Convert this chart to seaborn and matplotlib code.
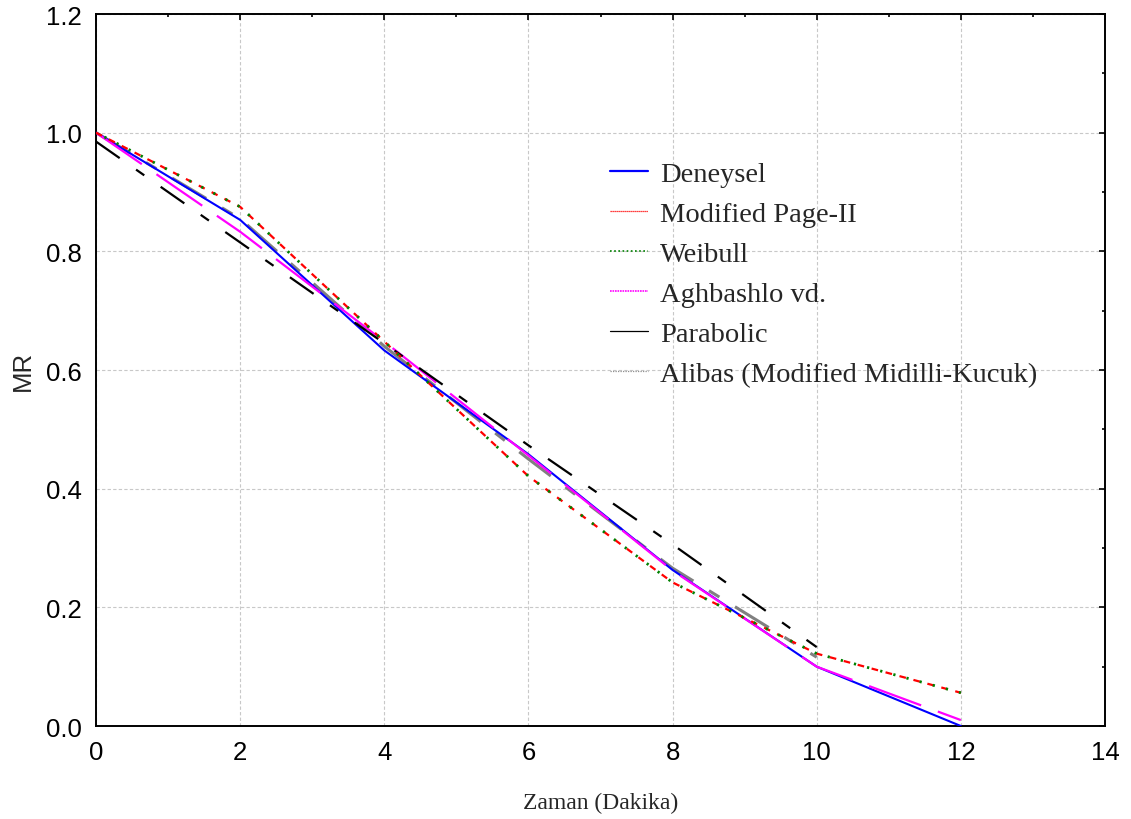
import numpy as np
import pandas as pd
import seaborn as sns
import matplotlib.pyplot as plt
from matplotlib.lines import Line2D
from matplotlib.ticker import MultipleLocator

# Data (time in minutes, MR)
zaman = [0, 2, 4, 6, 8, 10, 12]
deneysel = [1.000, 0.853, 0.633, 0.458, 0.263, 0.100, 0.000]
modified_page = [1.000, 0.875, 0.648, 0.421, 0.242, 0.122, 0.056]
weibull = [1.000, 0.875, 0.648, 0.421, 0.242, 0.122, 0.056]
aghbashlo = [1.000, 0.833, 0.648, 0.456, 0.262, 0.100, 0.010]
parabolic = [0.985, 0.815, 0.645, 0.473, 0.306, 0.133, np.nan]
alibas = [1.000, 0.855, 0.640, 0.450, 0.266, 0.116, np.nan]

labels = ["Deneysel", "Modified Page-II", "Weibull", "Aghbashlo vd.",
          "Parabolic", "Alibas (Modified Midilli-Kucuk)"]

sns.set_style("white")
plt.rcParams["font.family"] = ["Liberation Sans", "DejaVu Sans"]

fig = plt.figure(figsize=(11.31, 8.2), dpi=100)
ax = fig.add_axes([0.0849, 0.1134, 0.8921, 0.8683])

# series: values, colour, linewidth, linestyle, zorder
series = [
    (alibas, "#808080", 2.2, (0, (13, 6, 4, 6)), 2),
    (deneysel, "#0000ff", 1.5, "-", 3),
    (aghbashlo, "#ff00ff", 1.6, (0, (25, 8)), 4),
    (parabolic, "#000000", 1.6, (0, (13, 9, 4.5, 9)), 5),
    (modified_page, "#ff0000", 1.6, (0, (3, 3.5)), 6),
    (weibull, "#008000", 2.0, (1.5, (0.8, 4.1)), 7),
]

for vals, col, lw, ls, z in series:
    sns.lineplot(x=zaman, y=vals, ax=ax, color=col, lw=lw,
                 linestyle=ls, zorder=z)

ax.set_xlim(0, 14)
ax.set_ylim(0, 1.2)
ax.xaxis.set_major_locator(MultipleLocator(2))
ax.xaxis.set_minor_locator(MultipleLocator(1))
ax.yaxis.set_major_locator(MultipleLocator(0.2))
ax.yaxis.set_minor_locator(MultipleLocator(0.1))
ax.yaxis.set_major_formatter(plt.FormatStrFormatter("%.1f"))

ax.grid(True, which="major", color="#c8c8c8", linestyle=(0, (3, 2)), lw=0.8)
ax.tick_params(which="both", direction="in", top=True, right=True,
               labelsize=18.5, width=1.2, colors="black")
ax.tick_params(which="major", length=4, pad=10)
ax.tick_params(which="minor", length=2.5)
for sp in ax.spines.values():
    sp.set_visible(True)
    sp.set_color("black")
    sp.set_linewidth(1.4)

ax.set_ylabel("MR", fontsize=18.5, labelpad=8)
ax.set_xlabel("Zaman (Dakika)", fontsize=17, labelpad=20,
              family=["Liberation Serif", "DejaVu Serif"])

# legend in the style of the original (thin handle lines)
handles = [
    Line2D([], [], color="#0000ff", lw=1.6, ls="-"),
    Line2D([], [], color="#ff0000", lw=0.9, ls=(0, (1, 0.6))),
    Line2D([], [], color="#008000", lw=1.2, ls=(0, (1, 1.5))),
    Line2D([], [], color="#ff00ff", lw=1.2, ls=(0, (1, 0.5))),
    Line2D([], [], color="#000000", lw=0.9, ls="-"),
    Line2D([], [], color="#909090", lw=0.9, ls=(0, (1, 1))),
]
ax.legend(handles, labels, loc="upper left", bbox_to_anchor=(0.484, 0.83),
          frameon=False, handlelength=1.35, handletextpad=0.42,
          labelspacing=0.5,
          prop={"family": ["Liberation Serif", "DejaVu Serif"], "size": 20.5})

fig.savefig("out.png", dpi=100)
